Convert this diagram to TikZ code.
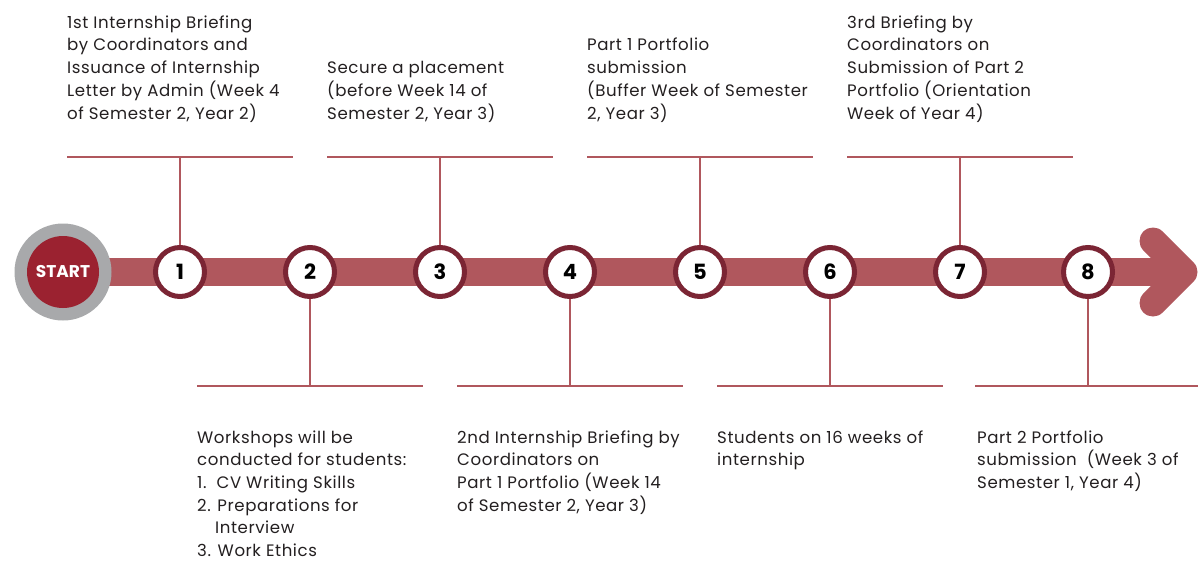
\documentclass[tikz,border=0pt]{standalone}
\usepackage{fontspec}
\setmainfont{Poppins}
\newfontfamily\descfont[LetterSpace=3.5]{Poppins}
\definecolor{barc}{HTML}{B0575D}
\definecolor{ringc}{HTML}{7B2534}
\definecolor{startc}{HTML}{9B2230}
\definecolor{grayc}{HTML}{A8A9AB}
\definecolor{txtc}{HTML}{231F20}
\begin{document}
\begin{tikzpicture}[x=1pt,y=-1pt,
  stepcircle/.style={circle,draw=ringc,line width=5pt,fill=white,minimum size=49pt,inner sep=0pt,
     font=\fontsize{21}{21}\selectfont\bfseries,text=black},
  desc/.style={align=left,inner sep=0pt,text=txtc,font=\descfont\fontsize{16.6}{22.7}\selectfont},
  link/.style={draw=barc,line width=1.8pt}]
\useasboundingbox (0,0) rectangle (1198,560);
% main bar
\fill[barc] (60,258) rectangle (1180,286);
\draw[barc,line width=27pt,line cap=round,line join=round] (1153,241) -- (1184,272) -- (1153,303);
% start
\node[circle,fill=grayc,minimum size=97pt,inner sep=0pt] (startring) at (63,272) {};
\node[circle,fill=startc,minimum size=72pt,inner sep=0pt,text=white,font=\fontsize{17}{17}\selectfont\bfseries] (start) at (63,272) {START};
% steps
\foreach \i/\x in {1/180,2/310,3/440,4/570,5/700,6/830,7/960,8/1088}{
  \node[stepcircle] (c\i) at (\x,272) {\i};
}
% top connectors
\foreach \i in {1,3,5,7}{
  \coordinate (v\i) at ([yshift=115pt]c\i.center);
  \coordinate (l\i) at ([xshift=-113pt]v\i);
  \coordinate (r\i) at ([xshift=113pt]v\i);
  \draw[link] (c\i.north) -- (v\i);
  \draw[link] (l\i) -- (r\i);
}
% bottom connectors
\foreach \i in {2,4,6,8}{
  \coordinate (v\i) at ([yshift=-114pt]c\i.center);
  \coordinate (l\i) at ([xshift=-113pt]v\i);
  \coordinate (r\i) at ([xshift=113pt]v\i);
  \draw[link] (c\i.south) -- (v\i);
  \draw[link] (l\i) -- (r\i);
}
% texts top (base = last line baseline)
\node[desc,anchor=base west] (t1) at (67,119) {1st Internship Briefing\\by Coordinators and\\Issuance of Internship\\Letter by Admin (Week 4\\of Semester 2, Year 2)};
\node[desc,anchor=base west] (t3) at (327,119) {Secure a placement\\(before Week 14 of\\Semester 2, Year 3)};
\node[desc,anchor=base west] (t5) at (587,119) {Part 1 Portfolio\\submission\\(Buffer Week of Semester\\2, Year 3)};
\node[desc,anchor=base west] (t7) at (847,119) {3rd Briefing by\\Coordinators on\\Submission of Part 2\\Portfolio (Orientation\\Week of Year 4)};
% texts bottom (first baseline at 443)
\node[desc,anchor=base west] (t2) at (197,556.5) {Workshops will be\\conducted for students:\\1.\ \ CV Writing Skills\\2. Preparations for\\\hspace*{18pt}Interview\\3. Work Ethics};
\node[desc,anchor=base west] (t4) at (457,511.1) {2nd Internship Briefing by\\Coordinators on\\Part 1 Portfolio (Week 14\\of Semester 2, Year 3)};
\node[desc,anchor=base west] (t6) at (717,465.7) {Students on 16 weeks of\\internship};
\node[desc,anchor=base west] (t8) at (977,488.4) {Part 2 Portfolio\\submission\ \ (Week 3 of\\Semester 1, Year 4)};
\end{tikzpicture}
\end{document}
